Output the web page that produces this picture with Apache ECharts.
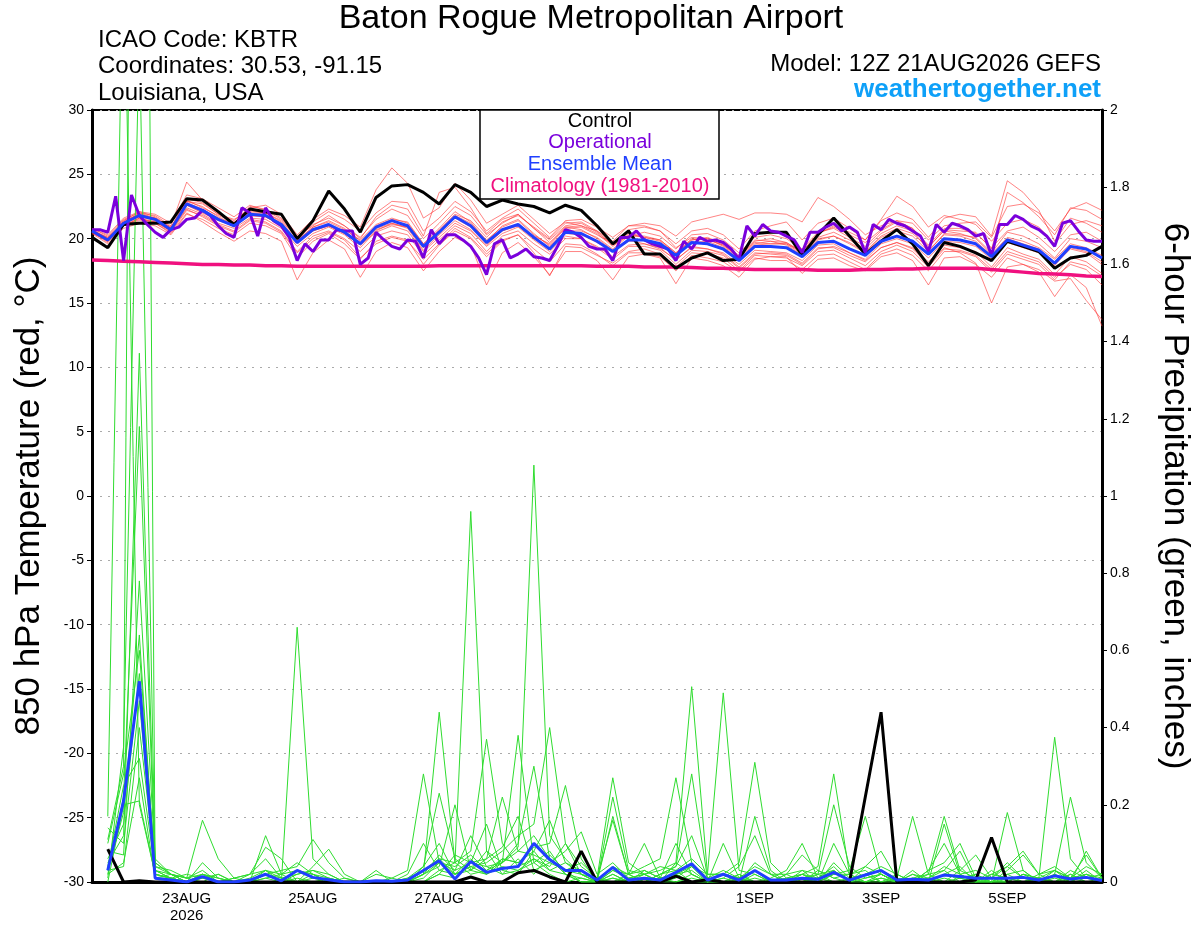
<!DOCTYPE html>
<html><head><meta charset="utf-8">
<script src="https://cdn.jsdelivr.net/npm/echarts@6/dist/echarts.min.js"></script>
<style>html,body{margin:0;padding:0;background:#fff}#c{width:1200px;height:927px}</style>
</head><body><div id="c"></div>
<script>
// ---- time axis (hours after 12Z 21AUG2026) ----
const ensStepHours = 6;
const opStepHours = 3;
const xTickLabels = {36:'23AUG\n2026', 84:'25AUG', 132:'27AUG', 180:'29AUG', 252:'1SEP', 300:'3SEP', 348:'5SEP'};
const tempTicks = {min:-30, max:30, interval:5};
const precTicks = {min:0, max:2, interval:0.2};

// ---- 850 hPa temperature (°C), 6-hourly ----
const controlTemp = [20.1,19.3,21.1,21.2,21.2, 21.3,23.1,23.0,22.1,21.1, 22.3,22.1,21.9,20.0,21.4, 23.7,22.3,20.5,23.2,24.1, 24.2,23.6,22.7,24.2,23.6, 22.5,23.0,22.7,22.5,22.0, 22.6,22.2,21.0,19.6,20.6, 18.8,18.8,17.7,18.5,18.9, 18.3,18.4,20.4,20.5,20.5, 18.7,20.3,21.6,20.2,18.8, 19.8,20.7,19.6,17.9,19.7, 19.4,18.9,18.3,19.8,19.4, 19.0,17.7,18.5,18.7,19.4];
const meanTemp = [20.6,19.9,21.2,21.8,21.5, 20.7,22.7,22.2,21.5,21.0, 21.9,21.8,21.1,19.7,20.7, 21.1,20.5,19.6,20.9,21.4, 21.0,19.4,20.5,21.7,21.0, 19.7,20.7,21.1,20.1,19.2, 20.5,20.4,19.8,19.0,19.9, 19.9,19.6,18.7,19.7,19.6, 19.2,18.3,19.4,19.4,19.3, 18.6,19.7,19.8,19.2,18.7, 19.8,20.2,19.8,18.8,20.0, 19.9,19.6,18.6,19.9,19.5, 19.1,18.1,19.4,19.2,18.5];
const climTemp = [18.35,18.3,18.25,18.2,18.15, 18.1,18.05,18.0,18.0,17.95, 17.95,17.9,17.9,17.85,17.85, 17.85,17.85,17.85,17.85,17.85, 17.85,17.85,17.9,17.9,17.9, 17.9,17.9,17.9,17.9,17.9, 17.9,17.9,17.85,17.85,17.85, 17.8,17.8,17.8,17.75,17.7, 17.7,17.65,17.6,17.6,17.6, 17.6,17.55,17.55,17.55,17.6, 17.6,17.65,17.65,17.7,17.7, 17.7,17.7,17.6,17.5,17.4, 17.3,17.25,17.2,17.1,17.05];
// operational run, 3-hourly
const opTemp = [20.7,20.7,20.5,23.3,18.3,23.4,21.8,21.1,20.5,20.1, 20.7,20.9,21.5,21.6,22.2,21.8,21.0,20.4,20.1,22.4, 22.0,20.2,22.4,21.4,21.0,20.1,18.3,19.6,19.0,19.9, 19.9,20.7,20.6,20.6,18.0,18.5,20.5,19.9,19.4,19.2, 19.9,19.8,18.5,20.7,19.6,20.3,20.3,19.9,19.4,18.5, 17.2,19.6,19.9,18.5,18.8,19.2,18.6,18.5,18.3,19.4, 20.7,20.5,20.1,19.4,19.2,19.2,18.3,20.1,20.1,20.6, 19.9,19.6,19.4,19.2,18.3,19.8,19.2,20.1,19.8,19.9, 19.7,19.2,18.4,21.0,20.2,21.1,20.6,20.5,20.2,19.9, 18.9,20.5,20.5,20.9,21.2,20.6,20.9,20.5,18.9,21.1, 20.7,21.5,21.2,21.0,20.6,20.2,19.0,21.1,20.5,21.2, 21.0,20.7,20.2,20.4,18.7,21.1,21.1,21.8,21.5,21.0, 20.7,20.2,19.4,21.2,21.4,20.6,19.9,19.8,19.8];
// ensemble members
const ensT1 = [20.8,20.2,21.5,22.0,21.8, 21.0,24.4,23.0,22.0,21.2, 22.5,22.3,21.6,20.2,21.0, 21.8,21.0,20.1,21.5,22.3, 21.8,20.0,21.2,22.5,21.8, 20.3,21.2,21.9,20.8,19.9, 21.0,21.2,20.5,19.5,20.2, 20.5,20.2,19.2,20.3,20.4, 19.9,18.9,20.1,20.3,20.0, 19.2,20.5,20.8,20.1,19.4, 20.6,21.3,20.8,19.5,20.8, 20.8,20.4,19.3,20.6,20.9, 20.1,19.0,20.3,20.5,19.8];
const ensT2 = [20.5,19.8,21.0,21.6,21.3, 20.6,22.9,22.7,21.9,21.4, 22.4,22.6,21.9,20.3,21.5, 22.3,21.8,20.9,23.8,25.5, 24.3,21.6,22.4,24.3,23.0, 21.2,21.9,22.6,21.5,20.4, 21.3,21.0,20.4,19.4,20.3, 20.1,19.9,18.9,19.9,20.0, 19.5,18.6,19.8,20.0,19.7, 18.9,20.1,20.5,19.9,19.2, 20.4,21.0,20.6,19.1,20.3, 20.2,19.8,18.7,20.0,19.6, 19.2,18.0,19.2,18.9,18.0];
const ensT3 = [20.4,19.6,20.8,21.2,21.0, 20.3,21.9,21.5,20.8,20.3, 21.2,21.0,20.4,18.5,19.8, 20.4,19.6,18.4,19.8,20.2, 19.9,18.0,19.5,20.6,20.0, 18.6,19.8,20.3,19.2,18.2, 19.6,19.5,18.8,17.9,18.9, 18.9,18.6,17.5,18.7,18.5, 18.2,17.4,18.5,18.3,18.3, 17.6,18.7,18.8,18.2,17.6, 18.8,19.2,18.7,17.5,19.0, 19.0,18.6,17.4,18.8,18.4, 18.0,16.8,18.2,17.9,17.1];
const ensT4 = [20.6,19.9,21.1,21.4,21.2, 20.4,22.0,21.3,20.5,19.8, 20.6,20.4,19.8,16.8,18.9, 19.9,19.2,17.0,19.0,19.7, 19.3,17.5,19.0,20.1,19.5, 16.4,18.9,19.7,18.6,17.2, 19.0,19.0,18.3,16.8,18.6, 18.8,18.5,16.5,18.5,18.3, 17.9,17.0,18.4,18.6,18.6, 17.3,18.4,18.5,17.9,17.5, 18.6,18.9,18.3,16.4,18.5, 18.6,18.0,17.0,18.5,18.0, 17.4,15.5,17.2,16.2,13.2];
const ensT5 = [20.7,20.0,21.3,21.9,21.6, 20.8,22.8,22.3,21.6,21.1, 21.9,21.7,21.0,19.9,20.9, 21.3,20.7,19.9,21.1,21.6, 21.2,19.6,20.6,21.8,21.2, 19.9,20.9,21.4,20.3,19.5, 20.8,20.9,20.3,19.6,20.7, 20.9,20.6,19.6,20.6,20.8, 20.3,19.2,20.6,21.0,21.3, 19.9,21.2,21.6,20.8,19.9, 21.4,22.0,21.5,20.1,21.6, 21.9,21.7,20.2,24.5,23.6, 22.2,19.8,21.6,21.2,20.5];
const ensT6 = [20.5,19.8,21.3,21.7,21.4, 20.6,22.4,21.9,21.2,20.8, 21.6,21.5,20.8,19.4,20.4, 20.9,20.3,19.3,20.6,21.2, 20.8,19.1,20.3,21.4,20.7, 19.5,20.6,21.1,20.2,19.6, 20.9,21.0,20.6,19.8,21.0, 21.2,21.0,20.2,21.3,21.6, 21.9,21.5,22.0,22.0,21.9, 21.3,23.2,22.5,21.5,20.3, 21.0,21.4,20.8,19.4,20.6, 20.4,20.0,18.8,20.1,19.8, 19.3,18.4,19.6,19.3,18.7];
const ensT7 = [20.6,20.0,21.1,21.7,21.6, 20.9,23.0,22.4,21.8,21.3, 22.0,21.9,21.2,19.8,20.8, 21.0,20.4,19.5,20.7,21.1, 20.9,19.3,20.7,21.9,21.4, 20.1,21.3,21.8,20.9,20.0, 21.2,21.3,20.6,19.5,20.4, 20.1,19.8,18.8,19.9,20.1, 19.6,18.7,19.9,19.8,19.7, 19.0,20.4,21.0,20.5,19.9, 21.5,23.3,22.5,20.9,21.8, 21.5,21.1,19.8,21.2,21.5, 20.9,19.6,21.1,21.4,21.0];
const ensT8 = [20.7,20.1,21.4,22.1,21.7, 20.9,22.6,22.0,21.4,21.0, 21.8,21.7,21.1,19.9,20.6, 21.0,20.4,19.5,20.5,21.0, 20.6,19.0,20.1,21.2,20.6, 19.4,20.4,20.9,19.9,19.0, 20.2,20.0,19.4,18.6,19.5, 19.6,19.3,18.3,19.4,19.2, 18.8,17.8,18.9,18.8,18.7, 18.0,19.2,19.4,18.9,18.3, 19.3,19.7,19.2,18.0,19.3, 18.9,18.1,15.0,17.8,18.0, 17.6,16.7,16.9,15.2,13.7];
const ensT9 = [20.8,20.3,21.6,22.1,21.9, 21.2,23.4,23.1,22.4,21.7, 22.6,22.2,21.5,20.1,21.3, 22.1,21.5,20.6,22.0,22.9, 22.8,20.6,21.6,22.9,22.1, 20.6,21.6,22.3,21.2,20.1, 21.4,21.5,20.9,20.1,21.0, 21.0,20.6,19.3,20.1,20.0, 19.4,18.5,19.6,19.8,19.5, 18.7,19.9,20.2,19.7,19.0, 20.2,20.8,20.4,19.3,20.7, 20.6,20.5,19.2,23.6,22.8, 21.7,20.3,22.4,22.2,21.5];
const ensT10 = [20.5,19.7,21.0,21.6,21.2, 20.5,22.2,21.8,21.1,20.6, 21.5,21.3,20.6,19.0,20.2, 20.6,20.0,19.0,20.2,20.6, 20.3,18.7,19.9,21.0,20.4, 19.0,20.2,20.6,19.6,18.8, 20.0,20.0,19.3,18.4,19.4, 19.4,19.1,18.0,19.1,19.0, 18.7,17.7,18.8,18.9,18.8, 18.1,19.3,19.3,18.7,18.2, 19.3,19.7,19.3,18.2,19.5, 19.3,19.0,17.8,19.3,18.8, 18.4,17.2,18.6,18.2,17.3];
const ensT11 = [20.6,20.1,21.2,22.0,21.6, 20.8,23.1,22.8,21.9,21.5, 22.2,22.0,21.4,20.0,21.1, 21.6,21.0,20.0,21.7,22.6, 22.3,20.2,23.6,24.0,22.4, 20.4,21.5,21.9,20.8,19.7, 20.9,20.7,20.0,19.1,19.9, 19.6,19.2,18.4,19.3,19.2, 18.9,18.0,19.1,19.0,18.9, 18.3,19.5,19.6,18.9,18.4, 19.6,20.0,19.6,18.5,19.8, 19.7,19.4,18.4,19.7,19.3, 18.9,17.9,19.3,19.0,18.2];
const ensT12 = [20.4,19.9,21.4,21.9,21.5, 20.8,22.9,22.5,21.7,21.1, 22.1,22.0,21.3,19.8,20.9, 21.4,20.8,19.8,21.0,21.5, 21.3,19.6,20.8,22.1,21.3, 19.8,21.0,21.5,20.4,19.4, 20.6,20.6,20.1,19.2,20.2, 20.2,19.9,18.9,20.0,19.9, 19.5,18.6,19.7,19.6,19.6, 18.8,20.0,20.2,19.6,18.9, 20.1,20.6,20.2,19.0,20.4, 20.3,20.1,18.9,20.5,20.2, 19.6,18.5,20.0,19.8,19.3];
const ensT13 = [20.6,19.8,21.0,21.5,21.3, 20.6,22.3,21.7,21.0,20.5, 21.4,21.2,20.5,18.9,20.0, 20.5,19.9,18.5,19.6,20.1, 19.8,18.4,19.6,20.8,20.1, 18.8,19.9,20.3,18.9,17.1, 19.4,19.3,18.7,18.1,19.0, 19.2,18.8,17.8,18.9,18.8, 18.5,17.5,18.7,18.6,18.5, 17.9,19.0,19.1,18.5,17.9, 19.0,19.5,19.0,17.8,19.2, 19.1,18.7,17.6,19.0,18.6, 18.2,17.0,18.0,17.6,16.4];
const ensT14 = [20.7,20.0,21.3,21.8,21.5, 20.7,22.6,22.1,21.5,21.0, 21.8,21.7,21.0,19.6,20.6, 21.0,20.5,19.7,20.8,21.2, 20.9,19.3,20.5,21.6,20.9, 19.6,20.6,21.0,20.0,19.2, 20.4,20.3,19.7,19.0,19.8, 19.9,19.6,18.7,19.7,19.8, 19.3,18.4,19.5,19.6,19.6, 19.0,20.4,20.9,20.3,19.7, 20.7,21.4,21.2,19.9,21.0, 21.2,21.3,20.1,22.5,22.7, 22.0,20.6,22.3,22.8,22.2];

// ---- 6-hour precipitation (inches) ----
const controlPrec = [null,0.085,0,0.003,0, 0,0,0,0,0, 0,0,0,0,0, 0,0,0,0,0, 0,0,0,0,0.013, 0,0,0.024,0.03,0.013, 0,0.08,0,0,0, 0,0,0.015,0,0.006, 0,0,0,0,0, 0,0,0,0,0.22, 0.44,0,0,0,0, 0,0.005,0.115,0,0, 0,0,0,0,0];
const meanPrec = [null,0.03,0.21,0.52,0.01, 0.005,0,0.014,0,0, 0.005,0.02,0.003,0.03,0.012, 0.006,0,0,0.003,0.002, 0.005,0.03,0.055,0.008,0.053, 0.025,0.035,0.04,0.1,0.058, 0.03,0.03,0.005,0.038,0.005, 0.01,0.005,0.025,0.047,0.005, 0.02,0.005,0.03,0.005,0.005, 0.01,0.007,0.025,0.005,0.018, 0.03,0.005,0.007,0.005,0.018, 0.014,0.01,0.01,0.01,0.012, 0.005,0.016,0.008,0.012,0.004];
const ensP1 = [null,0.17,2.5,0.2,0.02, 0.01,0,0,0,0, 0,0.01,0,0.01,0, 0,0,0,0,0, 0,0.02,0.44,0.05,0.02, 0.03,0.05,0.38,0.05,0.02, 0,0.01,0,0.02,0, 0,0.01,0,0.02,0, 0.1,0.01,0,0,0, 0.01,0,0.02,0.03,0.17, 0.02,0,0,0,0.01, 0,0,0,0.01,0, 0,0.02,0,0.08,0.01];
const ensP2 = [null,0.11,0.3,6.0,0.02, 0.01,0,0.01,0,0, 0,0.12,0.02,0,0, 0,0,0,0,0, 0,0,0.03,0.05,0.96, 0.08,0.02,0.03,0.06,0.04, 0.1,0.02,0,0.01,0, 0,0.02,0.04,0.28,0.01, 0,0,0.02,0,0, 0,0.01,0,0,0.02, 0,0,0.01,0,0.15, 0.02,0,0,0,0, 0.01,0,0.02,0,0];
const ensP3 = [null,0.05,0.12,1.37,0.05, 0.02,0.01,0.16,0.06,0.01, 0,0,0,0,0, 0,0,0,0.03,0, 0,0,0.02,0.01,0.05, 0.15,0.03,0.02,0.08,0.03, 0.02,0,0,0.22,0.03, 0.02,0,0,0.01,0, 0,0.02,0,0.01,0.03, 0.1,0.01,0,0,0, 0.01,0,0.03,0,0, 0,0.02,0,0.18,0.03, 0,0.01,0,0,0];
const ensP4 = [null,0.02,0.22,1.18,0.03, 0.01,0,0.02,0,0, 0.02,0.09,0.06,0,0, 0.01,0,0,0,0, 0,0.03,0.06,0.02,0.03, 0.06,0.09,0.17,0.03,0.05, 0.03,0,0,0.03,0.02, 0.1,0.01,0.02,0,0, 0.01,0,0.03,0,0.01, 0.02,0.04,0.28,0.02,0, 0,0.01,0,0.02,0.03, 0,0,0,0,0.02, 0,0.03,0.01,0.07,0.01];
const ensP5 = [null,0.08,0.07,0.78,0.06, 0.02,0,0.05,0.01,0, 0,0.03,0,0.02,0.03, 0.01,0,0,0,0, 0.01,0.04,0.1,0.02,0.04, 0.02,0.06,0.05,0.09,0.1, 0.25,0.06,0,0,0.01, 0,0.02,0.03,0,0, 0.02,0,0.17,0.03,0, 0,0.01,0.03,0,0.04, 0.02,0,0,0.01,0, 0.03,0.07,0.01,0,0, 0,0.02,0,0.03,0];
const ensP6 = [null,0.03,0.18,0.64,0.01, 0.02,0.01,0,0,0.01, 0.02,0.06,0.01,0,0.02, 0,0,0,0,0.01, 0,0.02,0.05,0.03,0.12, 0.04,0.02,0.06,0.02,0.07, 0.03,0.02,0.01,0.27,0.05, 0.02,0,0.05,0.02,0, 0,0,0.05,0.02,0, 0.03,0,0.1,0.02,0, 0.01,0,0.02,0,0.02, 0.01,0,0.02,0.04,0.01, 0.01,0.375,0.06,0.01,0.02];
const ensP7 = [null,0.01,0.35,2.2,0.04, 0.03,0.01,0.02,0.01,0, 0,0.02,0,0.66,0.06, 0.02,0,0,0,0, 0,0,0.02,0.07,0.05, 0.04,0.05,0.08,0.12,0.06, 0.02,0.01,0,0.02,0, 0.03,0.01,0.1,0.02,0, 0,0.01,0,0,0.02, 0,0.03,0.01,0,0.02, 0.03,0.01,0.17,0.02,0, 0.01,0,0,0.02,0.03, 0,0,0.02,0,0];
const ensP8 = [null,0.14,0.1,0.47,0.02, 0.01,0,0.02,0.01,0, 0,0.02,0.03,0.04,0.11, 0.05,0.01,0,0,0, 0,0.02,0.04,0.2,0.03, 0.02,0.04,0.03,0.05,0.08, 0.02,0,0,0.01,0, 0.02,0.03,0.05,0.506,0.02, 0.02,0,0.01,0,0, 0.01,0.02,0,0.01,0, 0.02,0,0,0.03,0.05, 0.1,0.01,0,0,0.02, 0.01,0,0,0.02,0];
const ensP9 = [null,0.04,0.25,0.32,0.03, 0.02,0,0.01,0.02,0, 0,0.02,0.01,0,0.04, 0.085,0.02,0,0,0, 0.01,0.03,0.06,0.05,0.08, 0.37,0.1,0.04,0.06,0.03, 0.05,0.02,0,0.17,0.02, 0,0,0.02,0.03,0, 0.01,0.04,0.12,0.02,0, 0.02,0,0.05,0.01,0.02, 0.03,0,0.01,0.02,0.17, 0.03,0.01,0,0.02,0, 0.02,0.04,0.01,0,0.01];
const ensP10 = [null,0.02,0.05,0.27,0.01, 0.01,0,0,0,0, 0,0,0,0,0.01, 0,0,0,0.02,0.01, 0.03,0.28,0.05,0.02,0.04, 0.05,0.08,0.12,0.15,0.4, 0.1,0.04,0.01,0,0.02, 0,0.02,0.04,0.12,0.01, 0,0.02,0,0,0.01, 0.02,0,0.02,0.02,0.04, 0.08,0.01,0,0,0.02, 0.04,0,0.01,0.05,0.01, 0,0.02,0.22,0.05,0.01];
const ensP11 = [null,0.06,0.15,0.54,0.05, 0.02,0,0.02,0,0, 0,0.01,0.02,0.03,0.02, 0.01,0,0,0,0, 0.02,0.1,0.03,0.02,0.06, 0.02,0.05,0.09,1.08,0.12, 0.06,0.02,0,0.03,0.01, 0.02,0,0.01,0.04,0.02, 0.02,0.05,0.31,0.05,0.01, 0,0.02,0.03,0,0.01, 0.02,0,0.01,0,0.02, 0.01,0.02,0,0.03,0.07, 0.02,0,0.01,0.02,0];
const ensP12 = [null,0,0.2,0.21,0.02, 0.01,0,0,0.02,0, 0,0.02,0,0.03,0.02, 0,0,0,0,0, 0,0.04,0.23,0.06,0.03, 0.08,0.05,0.1,0.3,0.06, 0.03,0.05,0.01,0.16,0.02, 0.03,0.01,0.02,0.04,0, 0.02,0.01,0.03,0,0.02, 0.07,0.03,0.01,0.02,0.03, 0,0.02,0,0.01,0.03, 0.08,0,0.02,0.01,0, 0.01,0.03,0,0.02,0.01];
const ensP13 = [null,0.03,0.04,0.4,0.04, 0.02,0.01,0.03,0,0.01, 0.02,0.03,0.02,0.05,0.02, 0,0.01,0,0,0, 0,0.02,0.07,0.03,0.05, 0.06,0.22,0.08,0.07,0.05, 0.08,0.13,0.02,0.05,0.01, 0.02,0.04,0.03,0.06,0.02, 0.49,0.03,0.02,0,0, 0.02,0.01,0.04,0,0.02, 0.04,0.02,0,0.03,0.1, 0.02,0,0.03,0,0.02, 0.01,0,0.03,0.01,0];
const ensP14 = [null,0.1,0.28,0.6,0.03, 0.01,0.02,0.01,0,0, 0.01,0.03,0.01,0.02,0.03, 0.02,0,0,0,0, 0,0.01,0.05,0.04,0.07, 0.03,0.06,0.05,0.08,0.16, 0.05,0.03,0,0.04,0.02, 0.04,0.06,0.27,0.05,0.01, 0.03,0.01,0.04,0.02,0.02, 0.03,0.02,0.2,0.04,0.01, 0.02,0,0.02,0.01,0.04, 0.02,0.03,0.01,0.04,0.08, 0.02,0.03,0.01,0.04,0.02];

const ensTempMembers = [ensT1,ensT2,ensT3,ensT4,ensT5,ensT6,ensT7,ensT8,ensT9,ensT10,ensT11,ensT12,ensT13,ensT14];
const ensPrecMembers = [ensP1,ensP2,ensP3,ensP4,ensP5,ensP6,ensP7,ensP8,ensP9,ensP10,ensP11,ensP12,ensP13,ensP14];

// ---- texts ----
const titleText = 'Baton Rogue Metropolitan Airport';
const infoLines = ['ICAO Code: KBTR', 'Coordinates: 30.53, -91.15', 'Louisiana, USA'];
const modelText = 'Model: 12Z 21AUG2026 GEFS';
const siteText = 'weathertogether.net';
const legendItems = [['Control','#000000'],['Operational','#7a00dc'],['Ensemble Mean','#1f3fff'],['Climatology (1981-2010)','#f0107f']];

const FONT = '"Liberation Sans", Arial, Helvetica, sans-serif';
const toXY = (arr, step) => arr.map((v, i) => [i * step, v]);

const series = [];
ensTempMembers.forEach(m => series.push({type:'line', yAxisIndex:0, data:toXY(m, ensStepHours), symbol:'none', silent:true,
  lineStyle:{color:'rgba(255,50,50,0.6)', width:1}}));
ensPrecMembers.forEach(m => series.push({type:'line', yAxisIndex:1, data:toXY(m, ensStepHours), symbol:'none', silent:true, connectNulls:false,
  lineStyle:{color:'#2fdc2f', width:1}}));
series.push({type:'line', yAxisIndex:0, data:toXY(climTemp, ensStepHours), symbol:'none', lineStyle:{color:'#f0107f', width:3.5}});
series.push({type:'line', yAxisIndex:0, data:toXY(controlTemp, ensStepHours), symbol:'none', lineStyle:{color:'#000', width:3}});
series.push({type:'line', yAxisIndex:0, data:toXY(opTemp, opStepHours), symbol:'none', lineStyle:{color:'#7a00dc', width:3}});
series.push({type:'line', yAxisIndex:0, data:toXY(meanTemp, ensStepHours), symbol:'none', lineStyle:{color:'#1f3fff', width:3}});
series.push({type:'line', yAxisIndex:1, data:toXY(controlPrec, ensStepHours), symbol:'none', lineStyle:{color:'#000', width:3}});
series.push({type:'line', yAxisIndex:1, data:toXY(meanPrec, ensStepHours), symbol:'none', lineStyle:{color:'#1f3fff', width:3}});

const txt = (text, x, y, size, align, color, weight) => ({type:'text', z:100, style:{text, x, y, fill:color||'#000',
  font:(weight||'normal') + ' ' + size + 'px ' + FONT, textAlign:align, textVerticalAlign:'middle', align:align, verticalAlign:'middle'}});

const graphics = [
  txt(titleText, 591, 19, 34, 'center'),
  txt(infoLines[0], 98, 40, 24, 'left'),
  txt(infoLines[1], 98, 66, 24, 'left'),
  txt(infoLines[2], 98, 93, 24, 'left'),
  txt(modelText, 1101, 64, 24, 'right'),
  txt(siteText, 1101, 90, 26, 'right', '#0ea0f8', 'bold'),
  {type:'rect', z:99, shape:{x:480, y:110, width:239, height:89}, style:{fill:'#fff', stroke:'#000', lineWidth:1.5}}
];
legendItems.forEach((it, k) => graphics.push(txt(it[0], 600, 121 + k * 21.7, 20, 'center', it[1])));

const chart = echarts.init(document.getElementById('c'), null, {renderer:'canvas'});
chart.setOption({
  animation:false,
  backgroundColor:'#fff',
  textStyle:{fontFamily:FONT},
  grid:{left:92, right:95, top:110, bottom:45, show:true, borderColor:'#000', borderWidth:2, backgroundColor:'transparent'},
  xAxis:{type:'value', min:0, max:384, interval:12,
    axisLine:{show:true, onZero:false, lineStyle:{color:'#000', width:3}},
    axisTick:{show:false}, splitLine:{show:false},
    axisLabel:{formatter:v => xTickLabels[v] || '', fontSize:15, color:'#000', margin:8, lineHeight:17, fontFamily:FONT}},
  yAxis:[
    {type:'value', position:'left', min:tempTicks.min, max:tempTicks.max, interval:tempTicks.interval,
      name:'850 hPa Temperature (red, °C)', nameLocation:'middle', nameGap:45,
      nameTextStyle:{fontSize:35, color:'#000', fontFamily:FONT},
      axisLine:{show:true, lineStyle:{color:'#000', width:3}},
      axisTick:{show:true, length:5, lineStyle:{color:'#000', width:1}},
      axisLabel:{fontSize:14, color:'#000', margin:8, fontFamily:FONT},
      splitLine:{show:true, lineStyle:{color:'#aaaaaa', width:1, type:[2,6]}}},
    {type:'value', position:'right', min:precTicks.min, max:precTicks.max, interval:precTicks.interval,
      name:'6-hour Precipitation (green, inches)', nameLocation:'middle', nameGap:55, nameRotate:-90,
      nameTextStyle:{fontSize:35, color:'#000', fontFamily:FONT},
      axisLine:{show:true, lineStyle:{color:'#000', width:3}},
      axisTick:{show:true, length:5, lineStyle:{color:'#000', width:1}},
      axisLabel:{fontSize:14, color:'#000', margin:8, fontFamily:FONT, formatter:v => String(Math.round(v * 10) / 10)},
      splitLine:{show:false}}
  ],
  graphic:graphics,
  series:series
});
</script>
</body></html>
